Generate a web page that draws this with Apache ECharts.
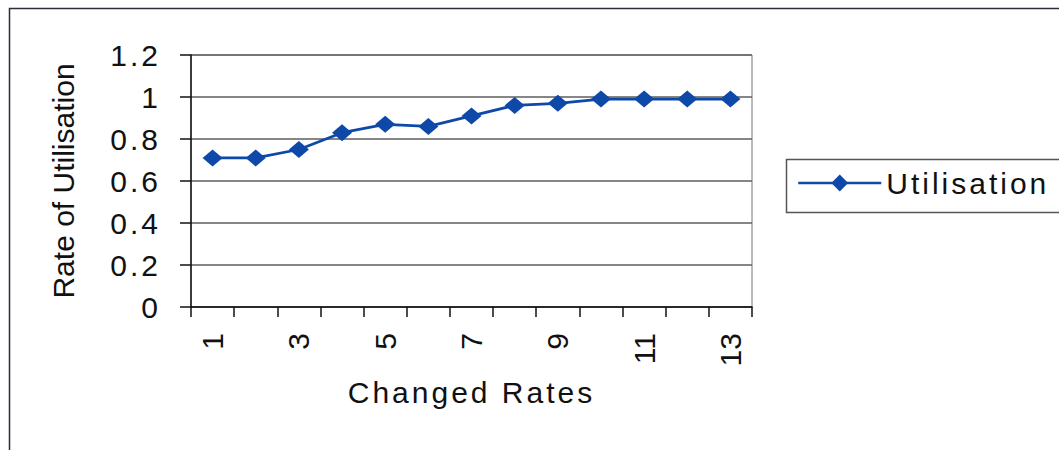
<!DOCTYPE html>
<html>
<head>
<meta charset="utf-8">
<script src="https://cdn.jsdelivr.net/npm/echarts@6/dist/echarts.min.js"></script>
<style>
  html, body { margin: 0; padding: 0; background: #ffffff; }
  #chart { width: 1059px; height: 450px; }
  /* wide tracking on horizontal text, none on rotated text */
  #chart text { letter-spacing: 3px; }
  #chart text[transform^="matrix"] { letter-spacing: 0; }
</style>
</head>
<body>
<div id="chart"></div>
<script>
// Utilisation rate for each changed rate step
const categories = ['1', '2', '3', '4', '5', '6', '7', '8', '9', '10', '11', '12', '13'];
const utilisation = [0.71, 0.71, 0.75, 0.83, 0.87, 0.86, 0.91, 0.96, 0.97, 0.99, 0.99, 0.99, 0.99];
const seriesName = 'Utilisation';
const xAxisTitle = 'Changed Rates';
const yAxisTitle = 'Rate of Utilisation';
const yMin = 0, yMax = 1.2, yStep = 0.2;

const FONT = 'Liberation Sans, Arial, sans-serif';
const BLUE = '#0e49a9';
const INK = '#111111';

const chart = echarts.init(document.getElementById('chart'), null, { renderer: 'svg' });

chart.setOption({
  backgroundColor: '#ffffff',
  animation: false,
  graphic: [
    // outer chart frame (continues past the right and bottom edges)
    { type: 'rect', left: 7, top: 6, shape: { x: 0, y: 0, width: 1100, height: 500 },
      style: { fill: 'none', stroke: '#2b2b3a', lineWidth: 1.5 }, silent: true },
    // legend frame
    { type: 'rect', left: 784, top: 157, shape: { x: 0, y: 0, width: 300, height: 53 },
      style: { fill: 'none', stroke: '#555555', lineWidth: 1.5 }, silent: true }
  ],
  legend: {
    left: 797,
    top: 168,
    padding: 0,
    itemWidth: 83,
    itemHeight: 21,
    itemGap: 10,
    lineStyle: { width: 2.5 },
    textStyle: { fontFamily: FONT, fontSize: 30, color: INK, padding: [0, 0, 0, 0] },
    data: [seriesName]
  },
  grid: {
    left: 191,
    right: 307,
    top: 55,
    bottom: 143,
    show: true,
    borderColor: '#777777',
    borderWidth: 1,
    containLabel: false
  },
  xAxis: {
    type: 'category',
    data: categories,
    boundaryGap: true,
    name: xAxisTitle,
    nameLocation: 'middle',
    nameGap: 70,
    nameTextStyle: { fontFamily: FONT, fontSize: 30, color: INK },
    axisLine: { show: true, lineStyle: { color: INK, width: 1.5 } },
    axisTick: { show: true, interval: 0, length: 10, inside: false, lineStyle: { color: INK, width: 1.5 } },
    axisLabel: {
      interval: 1,
      rotate: 90,
      margin: 26,
      fontFamily: FONT,
      fontSize: 30,
      color: INK
    },
    splitLine: { show: false }
  },
  yAxis: {
    type: 'value',
    min: yMin,
    max: yMax,
    interval: yStep,
    name: yAxisTitle,
    nameLocation: 'middle',
    nameRotate: 90,
    nameGap: 113,
    nameTextStyle: { fontFamily: FONT, fontSize: 30, color: INK },
    axisLine: { show: true, lineStyle: { color: INK, width: 1.5 } },
    axisTick: { show: true, length: 11, inside: false, lineStyle: { color: INK, width: 1.5 } },
    axisLabel: {
      margin: 30,
      fontFamily: FONT,
      fontSize: 30,
      color: INK,
      formatter: v => String(+v.toFixed(1))
    },
    splitLine: { show: true, lineStyle: { color: '#5e5e5e', width: 1.5 } }
  },
  series: [{
    name: seriesName,
    type: 'line',
    data: utilisation,
    symbol: 'diamond',
    symbolSize: [20, 17],
    lineStyle: { color: BLUE, width: 2.8 },
    itemStyle: { color: BLUE },
    z: 3
  }]
});
</script>
</body>
</html>
